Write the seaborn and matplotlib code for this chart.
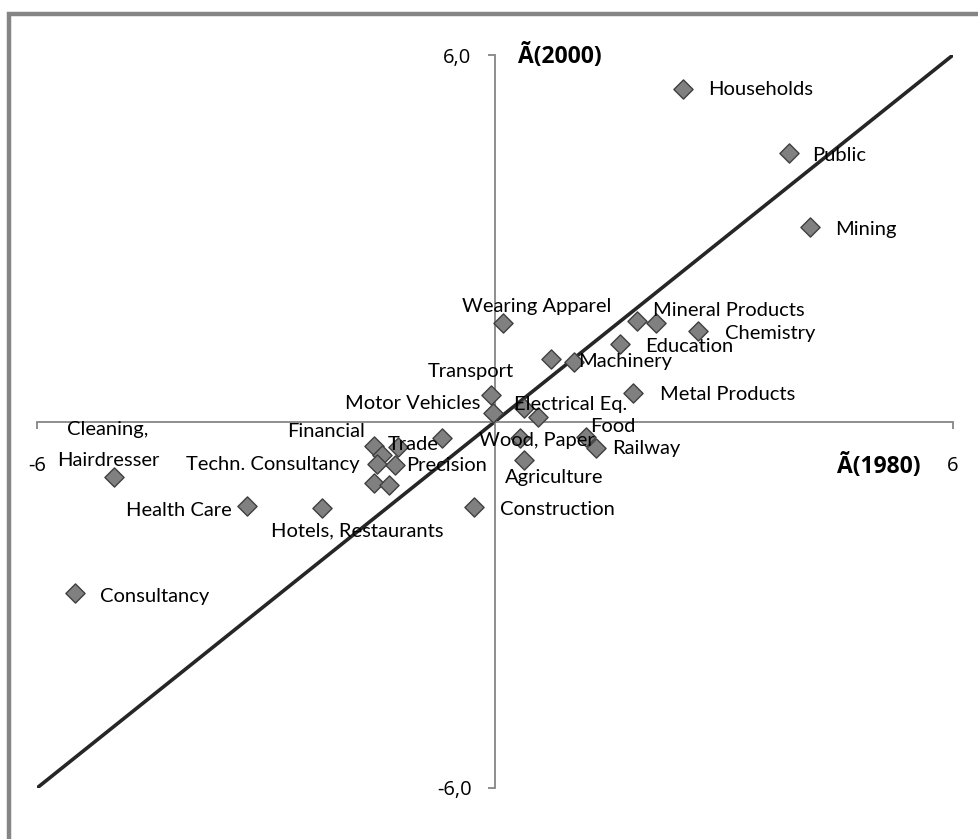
import matplotlib
matplotlib.use("Agg")
import matplotlib.pyplot as plt
import numpy as np
import pandas as pd
import seaborn as sns
from matplotlib.patches import Rectangle

# sector positions: x = 1980 value, y = 2000 value
sectors = ["Households", "Public", "Mining", "Wearing Apparel", "Mineral Products", "",
           "Education", "Chemistry", "Machinery", "", "Metal Products", "Transport",
           "Motor Vehicles", "Electrical Eq.", "", "Wood, Paper", "Food", "Railway",
           "Agriculture", "Construction", "", "Financial", "Trade", "", "Techn. Consultancy",
           "Precision", "", "", "Hotels, Restaurants", "Health Care", "Cleaning,\nHairdresser",
           "Consultancy"]
x1980 = [2.46, 3.85, 4.13, 0.10, 1.86, 2.11, 1.64, 2.66, 0.73, 1.03, 1.81, -0.05,
         -0.03, 0.38, 0.56, 0.33, 1.19, 1.32, 0.38, -0.28, -0.69, -1.59, -1.48, -1.27,
         -1.55, -1.31, -1.59, -1.39, -2.27, -3.25, -4.99, -5.50]
y2000 = [5.44, 4.39, 3.18, 1.61, 1.64, 1.61, 1.27, 1.48, 1.02, 0.97, 0.47, 0.43,
         0.14, 0.22, 0.07, -0.27, -0.25, -0.43, -0.63, -1.40, -0.27, -0.40, -0.55, -0.42,
         -0.70, -0.71, -1.01, -1.04, -1.42, -1.38, -0.91, -2.81]
diag = [-6, 6]

# label offsets in pixels (dx, dy, ha)
offsets = {
    "Households": (25, 0, "left"), "Public": (23, -2, "left"), "Mining": (25, -2, "left"),
    "Wearing Apparel": (34, 17, "center"), "Mineral Products": (16, 11, "left"),
    "Education": (25, -3, "left"), "Chemistry": (27, -2, "left"), "Machinery": (27, -2, "left"),
    "Metal Products": (27, -2, "left"), "Transport": (-20, 24, "center"),
    "Motor Vehicles": (-12, 9, "right"), "Electrical Eq.": (-10, 4, "left"),
    "Wood, Paper": (17, -3, "center"), "Food": (4, 10, "left"), "Railway": (16, -1, "left"),
    "Agriculture": (30, -18, "center"), "Construction": (26, -2, "left"),
    "Financial": (-9, 14, "right"), "Trade": (6, 11, "left"),
    "Techn. Consultancy": (-17, 0, "right"), "Precision": (11, -1, "left"),
    "Hotels, Restaurants": (36, -23, "center"), "Health Care": (-15, -5, "right"),
    "Cleaning,\nHairdresser": (-6, 32, "center"), "Consultancy": (25, -3, "left"),
}

df = pd.DataFrame({"sector": sectors, "x": x1980, "y": y2000})

sns.set_theme(style="white")
plt.rcParams["font.family"] = ["Lato", "DejaVu Sans"]
plt.rcParams["text.color"] = "black"
plt.rcParams["xtick.color"] = "black"
plt.rcParams["ytick.color"] = "black"

fig = plt.figure(figsize=(9.79, 8.39), dpi=100)
ax = fig.add_axes([37 / 979, 51 / 839, 916 / 979, 733 / 839])

sns.lineplot(x=diag, y=diag, color="#262626", linewidth=2.6, ax=ax, zorder=2)
sns.scatterplot(data=df, x="x", y="y", marker="D", s=95, color="#808080",
                edgecolor="#3f3f3f", linewidth=1.0, ax=ax, zorder=3)

for _, r in df.iterrows():
    if not r.sector:
        continue
    dx, dy, ha = offsets[r.sector]
    ax.annotate(r.sector, (r.x, r.y), xytext=(dx, dy), textcoords="offset pixels",
                ha=ha, va="center", fontsize=14.5, color="black", linespacing=2.0,
                zorder=4)

ax.set_xlim(-6, 6)
ax.set_ylim(-6, 6)
for s in ["top", "right"]:
    ax.spines[s].set_visible(False)
for s in ["left", "bottom"]:
    ax.spines[s].set_position(("data", 0))
    ax.spines[s].set_color("#868686")
    ax.spines[s].set_linewidth(1.3)

ax.set_xticks([-6, 6])
ax.set_xticklabels(["-6", "6"])
ax.set_yticks([-6, 6])
ax.set_yticklabels(["-6,0", "6,0"])
ax.tick_params(axis="x", direction="out", length=5, width=1.3, color="#868686",
               pad=20, labelsize=14.5, labelcolor="black", bottom=True)
ax.tick_params(axis="y", direction="out", length=5, width=1.3, color="#868686",
               pad=12, labelsize=14.5, labelcolor="black", left=True)
for t in ax.get_xticklabels() + ax.get_yticklabels():
    t.set_family(["Open Sans", "DejaVu Sans"])
ax.set_xlabel("")
ax.set_ylabel("")

ax.text(518 / 979, 1 - 57 / 839, "Ã(2000)", transform=fig.transFigure, fontsize=16.5,
        fontweight="bold", va="center", ha="left", family=["Open Sans", "DejaVu Sans"])
ax.text(837 / 979, 1 - 466 / 839, "Ã(1980)", transform=fig.transFigure, fontsize=16.5,
        fontweight="bold", va="center", ha="left", family=["Open Sans", "DejaVu Sans"])

# outer frame
fig.add_artist(Rectangle((9 / 979, -0.1), 1.2, 1 - 14 / 839 + 0.1, transform=fig.transFigure,
                         fill=False, edgecolor="#858585", linewidth=3.2))

fig.savefig("out.png", dpi=100, facecolor="white")
